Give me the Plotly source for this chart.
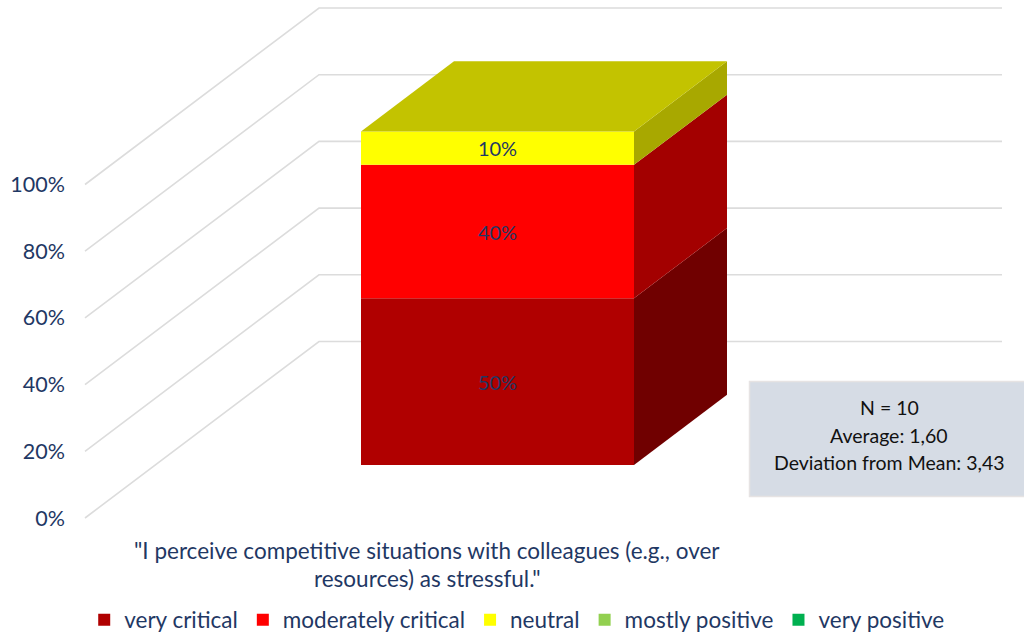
import plotly.graph_objects as go

series_names = ["very critical", "moderately critical", "neutral", "mostly positive", "very positive"]
series_values = [50, 40, 10, 0, 0]
front_colors = ["#b00000", "#ff0000", "#ffff00", "#92d050", "#00b050"]
side_colors = ["#700000", "#a30000", "#a8a800", "#76a840", "#008c40"]
top_color = "#c3c300"
tick_values = [0, 20, 40, 60, 80, 100]
tick_labels = ["0%", "20%", "40%", "60%", "80%", "100%"]
title_lines = ['"I perceive competitive situations with colleagues (e.g., over', 'resources) as stressful."']
note_lines = ["N = 10", "Average: 1,60", "Deviation from Mean: 3,43"]

W, H = 1024, 635
FONT = "Lato"
TEXT = "#1f3864"
GRID = "#dcdcdc"

# y axis calibration: value 0 at pixel 518, 100 at pixel 184.5
PX = 3.335
def yv(p):
    return (518 - p) / PX

# oblique projection of the 3D floor
wall_left, wall_knee, wall_right = 85, 319, 1002
wall_rise = yv(341.5)
slope = wall_rise / (wall_knee - wall_left)
bar_left, bar_right = 361, 634
bar_lift = yv(465)
bar_dx = 93
bar_rise = bar_dx * slope

fig = go.Figure()

shapes = []
for t in tick_values:
    shapes.append(dict(type="path", xref="x", yref="y", layer="below",
                       path=f"M {wall_left} {t} L {wall_knee} {t + wall_rise} L {wall_right} {t + wall_rise}",
                       line=dict(color=GRID, width=1.6)))
shapes.append(dict(type="rect", xref="x", yref="y", x0=749.5, x1=1026,
                   y0=yv(496.5), y1=yv(381.5),
                   fillcolor="#d6dce5", line=dict(color="#e6e3e3", width=1.5)))

cum = 0
for name, v, fc, sc in zip(series_names, series_values, front_colors, side_colors):
    fig.add_trace(go.Bar(
        x=[(bar_left + bar_right) / 2], y=[v], base=[cum + bar_lift], width=[bar_right - bar_left],
        name=name, marker=dict(color=fc, line=dict(width=0)),
        text=[f"{v}%"] if v else None, textposition="inside", insidetextanchor="middle",
        textangle=0, constraintext="none",
        textfont=dict(family=FONT, size=20, color=TEXT), hoverinfo="skip",
    ))
    if v:
        b, t = cum + bar_lift, cum + v + bar_lift
        fig.add_trace(go.Scatter(
            x=[bar_right, bar_right + bar_dx, bar_right + bar_dx, bar_right, bar_right],
            y=[b, b + bar_rise, t + bar_rise, t, b],
            mode="lines", fill="toself", fillcolor=sc, line=dict(width=0),
            showlegend=False, hoverinfo="skip"))
    cum += v

top = cum + bar_lift
fig.add_trace(go.Scatter(
    x=[bar_left, bar_right, bar_right + bar_dx, bar_left + bar_dx, bar_left],
    y=[top, top, top + bar_rise, top + bar_rise, top],
    mode="lines", fill="toself", fillcolor=top_color, line=dict(width=0),
    showlegend=False, hoverinfo="skip"))

annotations = []
for line, p in zip(title_lines, [550, 578]):
    annotations.append(dict(text=line, xref="x", yref="y", x=427, y=yv(p), showarrow=False,
                            xanchor="center", yanchor="middle", font=dict(family=FONT, size=22.5, color=TEXT)))
for line, p in zip(note_lines, [407, 435, 462]):
    annotations.append(dict(text=line, xref="x", yref="y", x=889, y=yv(p), showarrow=False,
                            xanchor="center", yanchor="middle", font=dict(family=FONT, size=19.5, color="#111111")))

fig.update_layout(
    width=W, height=H, margin=dict(l=66, r=0, t=0, b=0, autoexpand=False),
    paper_bgcolor="white", plot_bgcolor="white", barmode="overlay",
    shapes=shapes, annotations=annotations,
    xaxis=dict(range=[66, W], visible=False, fixedrange=True),
    yaxis=dict(range=[yv(H), yv(0)], tickmode="array", tickvals=tick_values, ticktext=tick_labels,
               showgrid=False, zeroline=False, showline=False, ticks="", ticklen=0, fixedrange=True,
               tickfont=dict(family=FONT, size=21.5, color=TEXT)),
    legend=dict(orientation="h", x=0.471, xanchor="center", xref="paper", yref="paper",
                y=1 - 620 / H, yanchor="middle",
                font=dict(family=FONT, size=22.5, color=TEXT),
                bgcolor="rgba(0,0,0,0)", itemclick=False, itemdoubleclick=False),
    showlegend=True,
)
fig.write_html("out.html", config={"displayModeBar": False},
               post_script="document.body.style.margin='0';document.body.style.overflow='hidden';")
